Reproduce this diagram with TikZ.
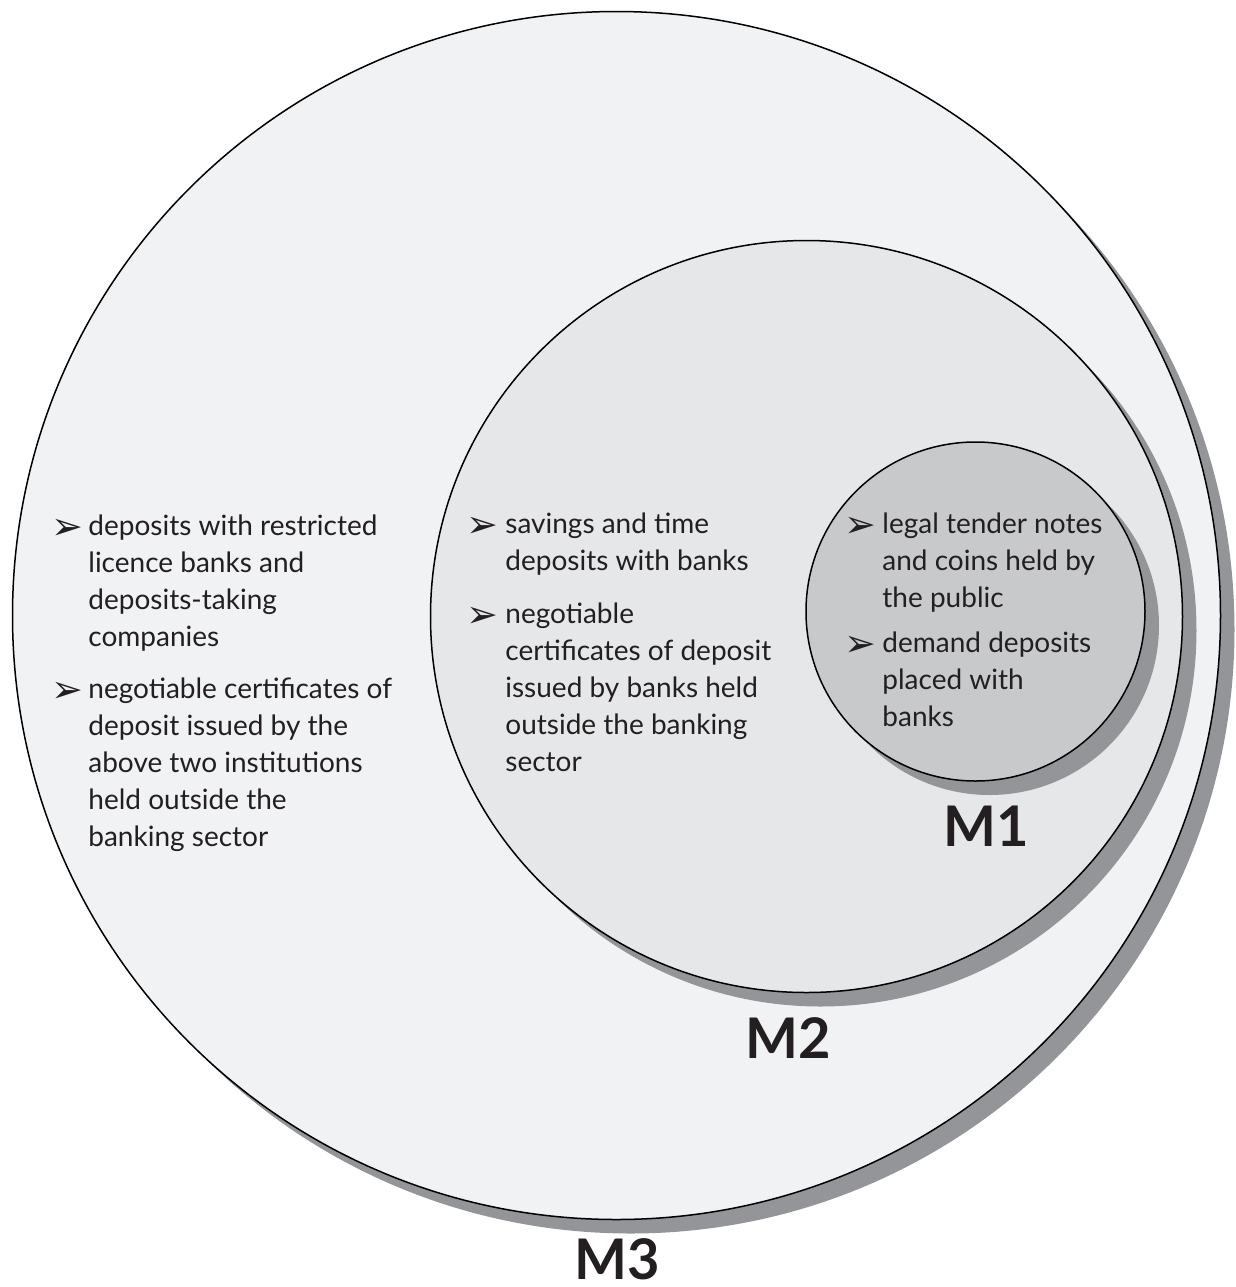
\documentclass[tikz,border=0pt]{standalone}
\usepackage{fontspec}
\setmainfont{Lato}
\newfontfamily\symfont{DejaVu Sans}
\usetikzlibrary{shadows}
\definecolor{ink}{HTML}{231F20}
\definecolor{shade}{HTML}{939598}
\definecolor{fillA}{HTML}{F1F2F4}
\definecolor{fillB}{HTML}{E6E7E8}
\definecolor{fillC}{HTML}{C8C9CB}

\begin{document}
\begin{tikzpicture}[x=0.5pt,y=-0.5pt,
  ring/.style={circle, draw=black, line width=0.75pt, inner sep=0pt,
    drop shadow={shadow xshift=7pt, shadow yshift=-7pt, fill=shade, opacity=1, draw=none}},
  % multi-line items are placed by the baseline of their last line
  item/.style={anchor=base west, inner sep=0pt, align=left, text=ink,
    font=\fontsize{14}{18.5}\selectfont},
  bulletmark/.style={anchor=base west, inner sep=0pt, text=ink,
    font=\symfont\fontsize{19}{19}\selectfont},
  level/.style={inner sep=0pt, text=ink, font=\bfseries\fontsize{28}{28}\selectfont}]

\useasboundingbox (0,0) rectangle (1236,1287);

% nested aggregates
\node[ring, fill=fillA, minimum size=604pt] (m3) at (616.5,615.5) {};
\node[ring, fill=fillB, minimum size=376pt] (m2) at (806.5,616.5) {};
\node[ring, fill=fillC, minimum size=169.5pt] (m1) at (975.5,611.5) {};

% labels
\node[level] (l1) at (986,826) {M1};
\node[level] (l2) at (788,1038) {M2};
\node[level] (l3) at (617,1259) {M3};

% M3 components
\node[bulletmark] (b31) at (51,539) {➢};
\node[item] (t31) at (88,646) {deposits with restricted\\licence banks and\\deposits-taking\\companies};
\node[bulletmark] (b32) at (51,702) {➢};
\node[item] (t32) at (88,846) {negotiable certificates of\\deposit issued by the\\above two institutions\\held outside the\\banking sector};

% M2 components
\node[bulletmark] (b21) at (466,537) {➢};
\node[item] (t21) at (505,570) {savings and time\\deposits with banks};
\node[bulletmark] (b22) at (466,627) {➢};
\node[item] (t22) at (505,771) {negotiable\\certificates of deposit\\issued by banks held\\outside the banking\\sector};

% M1 components
\node[bulletmark] (b11) at (844,537) {➢};
\node[item] (t11) at (882,607) {legal tender notes\\and coins held by\\the public};
\node[bulletmark] (b12) at (844,656) {➢};
\node[item] (t12) at (882,726) {demand deposits\\placed with\\banks};
\end{tikzpicture}
\end{document}
